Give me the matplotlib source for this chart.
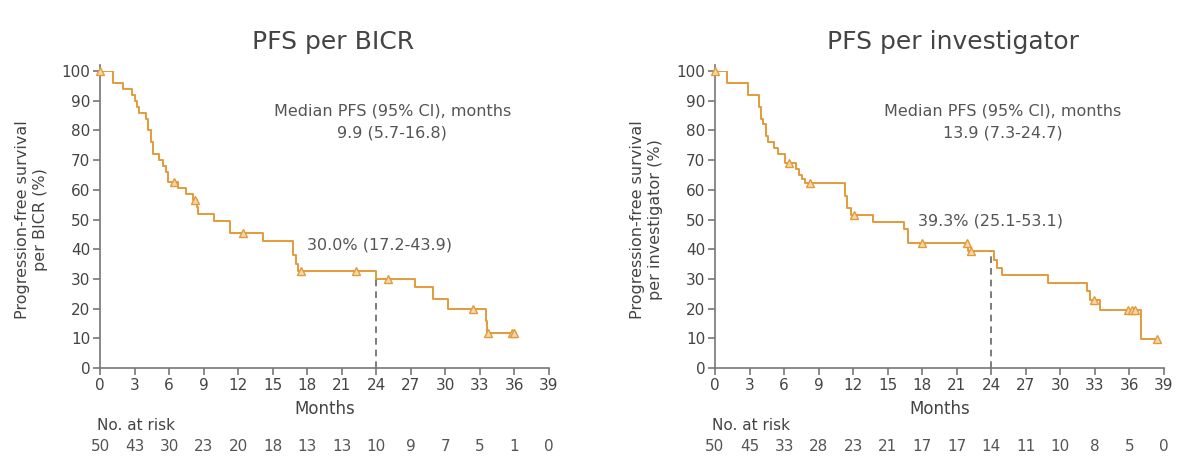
import matplotlib
matplotlib.use('Agg')
import matplotlib.pyplot as plt

# Kaplan-Meier steps (months, % progression-free)
bicr_t = [0, 1.1, 2.0, 2.8, 3.0, 3.2, 3.4, 4.0, 4.2, 4.4, 4.6, 5.1, 5.5, 5.7, 5.9,
          6.8, 7.5, 8.1, 8.4, 8.5, 9.9, 11.3, 14.2, 16.8, 17.0, 17.2, 24.0, 27.35,
          28.9, 30.2, 33.5, 33.6, 36.1]
bicr_s = [100, 96, 94, 92, 90, 88, 86, 84, 80, 76, 72, 70, 68, 66, 62.5,
          60.7, 58.6, 56.4, 54.3, 52, 49.6, 45.3, 42.8, 38, 35, 32.8, 30.0, 27.2,
          23.3, 19.7, 15.8, 11.8, 11.8]
bicr_cens_t = [0, 6.4, 8.25, 12.4, 17.5, 22.2, 25.0, 32.4, 33.7, 35.8, 36.0]
bicr_cens_s = [100, 62.5, 56.4, 45.3, 32.8, 32.8, 30.0, 19.7, 11.8, 11.8, 11.8]

inv_t = [0, 1.0, 2.9, 3.8, 4.0, 4.2, 4.4, 4.6, 5.1, 5.5, 6.1, 7.0, 7.3, 7.6, 7.8,
         11.3, 11.5, 11.8, 13.75, 16.4, 16.8, 22.0, 24.2, 24.5, 24.9, 28.9, 32.3,
         32.6, 33.4, 37.0, 38.5]
inv_s = [100, 96, 92, 88, 84, 82, 78, 76, 74, 72, 69, 67, 65, 63.5, 62.2,
         58, 54, 51.6, 49.2, 46.8, 42.2, 39.5, 36.5, 33.6, 31.3, 28.5, 25.9,
         22.9, 19.5, 9.9, 9.9]
inv_cens_t = [0, 6.4, 8.25, 12.1, 17.95, 21.9, 22.2, 32.9, 35.9, 36.2, 36.5, 38.4]
inv_cens_s = [100, 69, 62.2, 51.6, 42.2, 42.2, 39.5, 22.9, 19.5, 19.5, 19.5, 9.9]

risk_months = [0, 3, 6, 9, 12, 15, 18, 21, 24, 27, 30, 33, 36, 39]
bicr_risk = [50, 43, 30, 23, 20, 18, 13, 13, 10, 9, 7, 5, 1, 0]
inv_risk = [50, 45, 33, 28, 23, 21, 17, 17, 14, 11, 10, 8, 5, 0]

orange = '#E39B3A'
grey = '#555555'
plt.rcParams['font.family'] = ['DejaVu Sans']

fig = plt.figure(figsize=(12, 4.63), dpi=100)

panels = [
    dict(left=100, title='PFS per BICR', title_x=333,
         ylabel='Progression-free survival\nper BICR (%)',
         t=bicr_t, s=bicr_s, ct=bicr_cens_t, cs=bicr_cens_s, risk=bicr_risk,
         median='9.9 (5.7-16.8)', land=30.0, land_txt='30.0% (17.2-43.9)',
         land_xy=(24.3, 41.5), med_x=25.4),
    dict(left=715, title='PFS per investigator', title_x=953,
         ylabel='Progression-free survival\nper investigator (%)',
         t=inv_t, s=inv_s, ct=inv_cens_t, cs=inv_cens_s, risk=inv_risk,
         median='13.9 (7.3-24.7)', land=39.3, land_txt='39.3% (25.1-53.1)',
         land_xy=(23.9, 49.5), med_x=25.0),
]

for p in panels:
    ax = fig.add_axes([p['left'] / 1200, 95 / 463, 449 / 1200, 297 / 463])
    ax.step(p['t'], p['s'], where='post', color=orange, lw=1.4)
    ax.plot(p['ct'], p['cs'], linestyle='none', marker='^', ms=5.5,
            mfc='#F6D7AC', mec=orange, mew=1.0, clip_on=False, zorder=3)
    ax.plot([24, 24], [0, p['land']], color='#666666', lw=1.2,
            linestyle=(0, (4, 3)))
    ax.set_xlim(0, 39)
    ax.set_ylim(0, 100)
    ax.set_xticks(risk_months)
    ax.set_yticks(range(0, 101, 10))
    for side in ['top', 'right']:
        ax.spines[side].set_visible(False)
    for side in ['left', 'bottom']:
        ax.spines[side].set_color('#777777')
        ax.spines[side].set_linewidth(1.2)
    ax.spines['left'].set_bounds(0, 102)
    ax.tick_params(colors='#777777', labelcolor='#444444', labelsize=11,
                   length=5, width=1.2, direction='out', pad=2)
    ax.set_xlabel('Months', fontsize=12, color='#444444', labelpad=5)
    ax.set_ylabel(p['ylabel'], fontsize=11.5, color='#444444', labelpad=10)
    ax.text(p['med_x'], 86.5, 'Median PFS (95% CI), months', ha='center',
            va='center', fontsize=11.5, color=grey)
    ax.text(p['med_x'], 79, p['median'], ha='center', va='center',
            fontsize=11.5, color=grey)
    ax.text(p['land_xy'][0], p['land_xy'][1], p['land_txt'], ha='center',
            va='center', fontsize=11.5, color=grey)
    ax.text(-0.3, -19.5, 'No. at risk', ha='left', va='center', fontsize=11,
            color='#444444', clip_on=False)
    for m, n in zip(risk_months, p['risk']):
        ax.text(m, -26.5, str(n), ha='center', va='center', fontsize=11,
                color='#555555', clip_on=False)
    fig.text(p['title_x'] / 1200, 1 - 42 / 463, p['title'], ha='center',
             va='center', fontsize=18, color='#444444')

fig.savefig('out.png', dpi=100)
